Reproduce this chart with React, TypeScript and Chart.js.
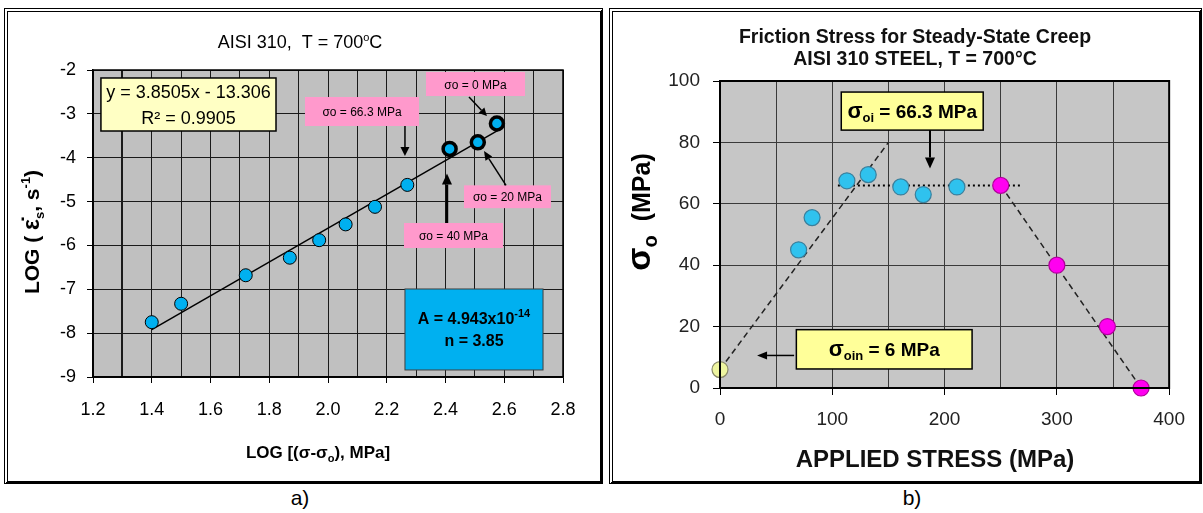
import { useEffect, useRef } from 'react';
import { Chart, registerables } from 'chart.js';

Chart.register(...registerables);

const SANS = '"Liberation Sans", Arial, Helvetica, sans-serif';

// ---------- Panel a) : LOG creep rate vs LOG effective stress ----------
const aLogStress = [1.40, 1.50, 1.72, 1.87, 1.97, 2.06, 2.16, 2.27];
const aLogRate = [-7.75, -7.33, -6.68, -6.28, -5.88, -5.52, -5.12, -4.62];
const aHighLogStress = [2.414, 2.51, 2.575];
const aHighLogRate = [-3.80, -3.65, -3.22];
const aFitX = [1.40, 2.58];
const aFitY = [-7.92, -3.37];
const aXTicks = ['1.2', '1.4', '1.6', '1.8', '2.0', '2.2', '2.4', '2.6', '2.8'];
const aYTicks = ['-9', '-8', '-7', '-6', '-5', '-4', '-3', '-2'];

// ---------- Panel b) : friction stress vs applied stress ----------
const bStartStress = [0];
const bStartSigma = [6];
const bBlueStress = [70, 82, 113, 132, 161, 181, 211];
const bBlueSigma = [45, 55.5, 67.5, 69.5, 65.5, 63, 65.5];
const bPinkStress = [250, 300, 345, 375];
const bPinkSigma = [66, 40, 20, 0];
const bRiseX = [0, 150];
const bRiseY = [6, 80];
const bFlatX = [105, 268];
const bFlatY = [66, 66];
const bFallX = [250, 375];
const bFallY = [66, 0];
const bXTicks = ['0', '100', '200', '300', '400'];
const bYTicks = ['0', '20', '40', '60', '80', '100'];

const pts = (xs: number[], ys: number[]) => xs.map((x, i) => ({ x, y: ys[i] }));

// canvas offsets in the page
const A = { left: 10, top: 13, w: 588, h: 466 };
const B = { left: 616, top: 14, w: 582, h: 464 };

type Seg = { t: string; size: number; bold?: boolean; dy?: number; family?: string };
const fontOf = (s: Seg) => `${s.bold ? 'bold ' : ''}${s.size}px ${s.family || SANS}`;

function drawSegs(ctx: CanvasRenderingContext2D, segs: Seg[], x: number, y: number, align = 'center', color = '#000') {
  ctx.save();
  ctx.fillStyle = color;
  ctx.textBaseline = 'alphabetic';
  ctx.textAlign = 'left';
  const ws = segs.map((s) => {
    ctx.font = fontOf(s);
    return ctx.measureText(s.t).width;
  });
  const total = ws.reduce((a, b) => a + b, 0);
  let cx = align === 'center' ? x - total / 2 : align === 'right' ? x - total : x;
  segs.forEach((s, i) => {
    ctx.font = fontOf(s);
    ctx.fillText(s.t, cx, y + (s.dy || 0));
    cx += ws[i];
  });
  ctx.restore();
}

function drawRotated(ctx: CanvasRenderingContext2D, segs: Seg[], x: number, y: number) {
  ctx.save();
  ctx.translate(x, y);
  ctx.rotate(-Math.PI / 2);
  drawSegs(ctx, segs, 0, 0, 'center');
  ctx.restore();
}

function arrow(ctx: CanvasRenderingContext2D, x1: number, y1: number, x2: number, y2: number, lw: number, hl: number, hw: number) {
  const a = Math.atan2(y2 - y1, x2 - x1);
  const bx = x2 - hl * Math.cos(a);
  const by = y2 - hl * Math.sin(a);
  ctx.save();
  ctx.strokeStyle = '#000';
  ctx.fillStyle = '#000';
  ctx.lineWidth = lw;
  ctx.beginPath();
  ctx.moveTo(x1, y1);
  ctx.lineTo(bx, by);
  ctx.stroke();
  ctx.beginPath();
  ctx.moveTo(x2, y2);
  ctx.lineTo(bx + hw * Math.sin(a), by - hw * Math.cos(a));
  ctx.lineTo(bx - hw * Math.sin(a), by + hw * Math.cos(a));
  ctx.closePath();
  ctx.fill();
  ctx.restore();
}

function rectBox(ctx: CanvasRenderingContext2D, x1: number, y1: number, x2: number, y2: number, fill: string, stroke: string | null, lw: number) {
  ctx.save();
  ctx.fillStyle = fill;
  ctx.fillRect(x1, y1, x2 - x1, y2 - y1);
  if (stroke) {
    ctx.strokeStyle = stroke;
    ctx.lineWidth = lw;
    ctx.strokeRect(x1, y1, x2 - x1, y2 - y1);
  }
  ctx.restore();
}

const near = (v: number, list: string[]) => list.some((s) => Math.abs(parseFloat(s) - v) < 1e-6);

const panelAPlugin = {
  id: 'panelA',
  beforeDraw(chart: any) {
    const { ctx, chartArea: c } = chart;
    ctx.save();
    ctx.fillStyle = '#c0c0c0';
    ctx.fillRect(c.left, c.top, c.width, c.height);
    ctx.restore();
  },
  afterDraw(chart: any) {
    const { ctx, chartArea: c, scales } = chart;
    const X = (v: number) => scales.x.getPixelForValue(v);
    const Y = (v: number) => scales.y.getPixelForValue(v);
    const px = (v: number) => v - A.left;
    const py = (v: number) => v - A.top;
    ctx.save();
    ctx.strokeStyle = '#000';
    ctx.lineWidth = 1.5;
    ctx.strokeRect(c.left, c.top, c.width, c.height);
    ctx.restore();

    // title
    drawSegs(ctx, [
      { t: 'AISI 310,  T = 700', size: 18 },
      { t: 'o', size: 11, dy: -7 },
      { t: 'C', size: 18 },
    ], px(300), py(48));

    // axis titles
    drawRotated(ctx, [
      { t: 'LOG ( ', size: 21, bold: true },
      { t: 'ε̇', size: 23, bold: true },
      { t: 's', size: 13, bold: true, dy: 5 },
      { t: ', s', size: 21, bold: true },
      { t: '-1', size: 13, bold: true, dy: -9 },
      { t: ')', size: 21, bold: true },
    ], px(39), py(232));
    drawSegs(ctx, [
      { t: 'LOG [(σ-σ', size: 17, bold: true },
      { t: 'o', size: 11, bold: true, dy: 4 },
      { t: '), MPa]', size: 17, bold: true },
    ], px(318), py(458));

    // regression box
    rectBox(ctx, X(1.227), Y(-2.182), X(1.823), Y(-3.391), '#ffffc4', '#000', 1.5);
    const cxBox = (X(1.227) + X(1.823)) / 2;
    drawSegs(ctx, [{ t: 'y = 3.8505x - 13.306', size: 18 }], cxBox, Y(-2.182) + 20);
    drawSegs(ctx, [{ t: 'R² = 0.9905', size: 18 }], cxBox, Y(-2.182) + 46);

    // pink labels
    const pink = (x1: number, y1: number, x2: number, y2: number, txt: string) => {
      rectBox(ctx, X(x1), Y(y1), X(x2), Y(y2), '#ff99cc', null, 0);
      drawSegs(ctx, [{ t: txt, size: 12 }], (X(x1) + X(x2)) / 2, (Y(y1) + Y(y2)) / 2 + 4.5);
    };
    pink(1.9217, -2.616, 2.3098, -3.277, 'σo = 66.3 MPa');
    arrow(ctx, X(2.262), Y(-3.277), X(2.262), Y(-3.96), 1.5, 9, 4.5);
    pink(2.3336, -2.046, 2.6707, -2.593, 'σo = 0 MPa');
    arrow(ctx, X(2.48), Y(-2.616), X(2.541), Y(-3.049), 1.5, 8, 4);
    pink(2.463, -4.63, 2.759, -5.15, 'σo = 20 MPa');
    arrow(ctx, X(2.606), Y(-4.63), X(2.531), Y(-3.847), 1.5, 9, 4);
    pink(2.2587, -5.489, 2.5957, -6.059, 'σo = 40 MPa');
    arrow(ctx, X(2.405), Y(-5.489), X(2.405), Y(-4.36), 2.5, 11, 5);

    // blue constants box
    rectBox(ctx, X(2.262), Y(-6.993), X(2.732), Y(-8.84), '#00b0f0', '#404040', 1);
    const cb = (X(2.262) + X(2.732)) / 2;
    drawSegs(ctx, [
      { t: 'A = 4.943x10', size: 16, bold: true },
      { t: '-14', size: 11, bold: true, dy: -7 },
    ], cb, Y(-6.993) + 35);
    drawSegs(ctx, [{ t: 'n = 3.85', size: 16, bold: true }], cb, Y(-6.993) + 57);
  },
};

const panelBPlugin = {
  id: 'panelB',
  beforeDraw(chart: any) {
    const { ctx, chartArea: c } = chart;
    ctx.save();
    ctx.fillStyle = '#c6c6c6';
    ctx.fillRect(c.left, c.top, c.width, c.height);
    ctx.restore();
  },
  afterDraw(chart: any) {
    const { ctx, chartArea: c, scales } = chart;
    const X = (v: number) => scales.x.getPixelForValue(v);
    const Y = (v: number) => scales.y.getPixelForValue(v);
    const px = (v: number) => v - B.left;
    const py = (v: number) => v - B.top;
    ctx.save();
    ctx.strokeStyle = '#000';
    ctx.lineWidth = 2;
    ctx.strokeRect(c.left, c.top, c.width, c.height);
    ctx.restore();

    drawSegs(ctx, [{ t: 'Friction Stress for Steady-State Creep', size: 19.5, bold: true }], px(915), py(43), 'center', '#111');
    drawSegs(ctx, [{ t: 'AISI 310 STEEL, T = 700°C', size: 19.5, bold: true }], px(915), py(65), 'center', '#111');

    drawRotated(ctx, [
      { t: 'σ', size: 34, bold: true },
      { t: 'o', size: 20, bold: true, dy: 7 },
      { t: '  (MPa)', size: 25, bold: true },
    ], px(650), py(212));
    drawSegs(ctx, [{ t: 'APPLIED STRESS (MPa)', size: 24, bold: true }], px(935), py(467), 'center', '#111');

    // sigma_oi box
    rectBox(ctx, X(108), Y(96.4), X(234.4), Y(84), '#ffff99', '#000', 1.5);
    drawSegs(ctx, [
      { t: 'σ', size: 22, bold: true },
      { t: 'oi', size: 13, bold: true, dy: 4 },
      { t: ' = 66.3 MPa', size: 19, bold: true },
    ], (X(108) + X(234.4)) / 2, (Y(96.4) + Y(84)) / 2 + 7);
    arrow(ctx, X(187), Y(84), X(187), Y(71.5), 2, 11, 5);

    // sigma_oin box
    rectBox(ctx, X(68), Y(19), X(224.5), Y(6.2), '#ffff99', '#000', 1.5);
    drawSegs(ctx, [
      { t: 'σ', size: 22, bold: true },
      { t: 'oin', size: 13, bold: true, dy: 4 },
      { t: ' = 6 MPa', size: 19, bold: true },
    ], (X(68) + X(224.5)) / 2, (Y(19) + Y(6.2)) / 2 + 7);
    arrow(ctx, X(66), Y(10.6), X(33), Y(10.6), 1.5, 10, 4);
  },
};

function useChart(ref: any, config: any) {
  useEffect(() => {
    const chart = new Chart(ref.current, config);
    return () => chart.destroy();
  }, []);
}

function PanelA() {
  const ref = useRef<HTMLCanvasElement>(null);
  useChart(ref, {
    type: 'scatter',
    data: {
      datasets: [
        {
          data: pts(aHighLogStress, aHighLogRate),
          backgroundColor: '#00b0f0',
          borderColor: '#000',
          borderWidth: 3.5,
          pointRadius: 6.5,
          clip: false,
        },
        {
          data: pts(aLogStress, aLogRate),
          backgroundColor: '#00b0f0',
          borderColor: '#000',
          borderWidth: 1,
          pointRadius: 6.5,
          clip: false,
        },
        {
          data: pts(aFitX, aFitY),
          showLine: true,
          borderColor: '#000',
          borderWidth: 1.5,
          pointRadius: 0,
        },
      ],
    },
    options: {
      responsive: false,
      animation: false,
      devicePixelRatio: 1,
      layout: { padding: { left: 0, right: A.w - 553, top: 57, bottom: 0 } },
      plugins: { legend: { display: false }, tooltip: { enabled: false } },
      scales: {
        x: {
          type: 'linear',
          min: 1.2,
          max: 2.8,
          afterFit: (s: any) => { s.height = 102; },
          ticks: {
            stepSize: 0.1,
            autoSkip: false,
            maxRotation: 0,
            padding: 16,
            color: '#000',
            font: { family: SANS, size: 18 },
            callback: (v: any) => (near(Number(v), aXTicks) ? Number(v).toFixed(1) : ''),
          },
          grid: {
            color: '#1a1a1a',
            lineWidth: (ctx: any) => (ctx.tick && Math.abs(ctx.tick.value - 1.3) < 1e-6 ? 2 : 1),
            tickLength: 6,
            tickColor: (ctx: any) => (ctx.tick && near(ctx.tick.value, aXTicks) ? '#000' : 'rgba(0,0,0,0)'),
          },
          border: { display: true, color: '#000', width: 1.5 },
        },
        y: {
          type: 'linear',
          min: -9,
          max: -2,
          afterFit: (s: any) => { s.width = 83; },
          ticks: {
            stepSize: 0.5,
            padding: 11,
            color: '#000',
            font: { family: SANS, size: 18 },
            callback: (v: any) => (near(Number(v), aYTicks) ? String(Math.round(Number(v))) : ''),
          },
          grid: {
            color: '#1a1a1a',
            lineWidth: 1,
            tickLength: 6,
            tickColor: (ctx: any) => (ctx.tick && near(ctx.tick.value, aYTicks) ? '#000' : 'rgba(0,0,0,0)'),
          },
          border: { display: true, color: '#000', width: 1.5 },
        },
      },
    },
    plugins: [panelAPlugin],
  });
  return (
    <canvas
      ref={ref}
      width={A.w}
      height={A.h}
      style={{ position: 'absolute', left: A.left, top: A.top, width: A.w, height: A.h }}
    />
  );
}

function PanelB() {
  const ref = useRef<HTMLCanvasElement>(null);
  useChart(ref, {
    type: 'scatter',
    data: {
      datasets: [
        {
          data: pts(bStartStress, bStartSigma),
          backgroundColor: '#eef5a0',
          borderColor: '#8a8a6a',
          borderWidth: 1.2,
          pointRadius: 8,
          clip: false,
        },
        {
          data: pts(bBlueStress, bBlueSigma),
          backgroundColor: '#2fc2ee',
          borderColor: '#3a7f9c',
          borderWidth: 1.2,
          pointRadius: 8,
          clip: false,
        },
        {
          data: pts(bPinkStress, bPinkSigma),
          backgroundColor: '#ff00f0',
          borderColor: '#b0009a',
          borderWidth: 1.2,
          pointRadius: 8,
          clip: false,
        },
        {
          data: pts(bFlatX, bFlatY),
          showLine: true,
          borderColor: '#000',
          borderWidth: 2,
          borderDash: [2, 3],
          pointRadius: 0,
        },
        {
          data: pts(bRiseX, bRiseY),
          showLine: true,
          borderColor: '#222',
          borderWidth: 1.5,
          borderDash: [6, 4],
          pointRadius: 0,
        },
        {
          data: pts(bFallX, bFallY),
          showLine: true,
          borderColor: '#222',
          borderWidth: 1.5,
          borderDash: [6, 4],
          pointRadius: 0,
        },
      ],
    },
    options: {
      responsive: false,
      animation: false,
      devicePixelRatio: 1,
      layout: { padding: { left: 0, right: B.w - 557, top: 67, bottom: 0 } },
      plugins: { legend: { display: false }, tooltip: { enabled: false } },
      scales: {
        x: {
          type: 'linear',
          min: 0,
          max: 400,
          afterFit: (s: any) => { s.height = 90; },
          ticks: {
            stepSize: 50,
            autoSkip: false,
            maxRotation: 0,
            padding: 13,
            color: '#222',
            font: { family: SANS, size: 19 },
            callback: (v: any) => (near(Number(v), bXTicks) ? String(v) : ''),
          },
          grid: {
            color: '#3a3a3a',
            lineWidth: 1,
            tickLength: 7,
            tickColor: (ctx: any) => (ctx.tick && near(ctx.tick.value, bXTicks) ? '#000' : 'rgba(0,0,0,0)'),
          },
          border: { display: true, color: '#000', width: 2 },
        },
        y: {
          type: 'linear',
          min: 0,
          max: 100,
          afterFit: (s: any) => { s.width = 104; },
          ticks: {
            stepSize: 20,
            padding: 13,
            color: '#222',
            font: { family: SANS, size: 19 },
            callback: (v: any) => (near(Number(v), bYTicks) ? String(v) : ''),
          },
          grid: {
            color: '#3a3a3a',
            lineWidth: 1,
            tickLength: 7,
            tickColor: '#000',
          },
          border: { display: true, color: '#000', width: 2 },
        },
      },
    },
    plugins: [panelBPlugin],
  });
  return (
    <canvas
      ref={ref}
      width={B.w}
      height={B.h}
      style={{ position: 'absolute', left: B.left, top: B.top, width: B.w, height: B.h }}
    />
  );
}

export default function App() {
  return (
    <div style={{ position: 'absolute', left: 0, top: 0, width: 1203, height: 513, background: '#fff', overflow: 'hidden', fontFamily: SANS }}>
      <div
        style={{
          position: 'absolute', left: 4, top: 8, width: 599, height: 476, boxSizing: 'border-box',
          borderTop: '4px double #000', borderLeft: '4px double #000', borderRight: '3px solid #000', borderBottom: '3px solid #000',
        }}
      />
      <div
        style={{
          position: 'absolute', left: 609, top: 8, width: 593, height: 476, boxSizing: 'border-box',
          borderTop: '4px double #000', borderLeft: '4px double #000', borderRight: '3px solid #000', borderBottom: '3px solid #000',
        }}
      />
      <PanelA />
      <PanelB />
      <div style={{ position: 'absolute', left: 300, top: 486, transform: 'translateX(-50%)', fontSize: 21, lineHeight: '24px', color: '#000' }}>a)</div>
      <div style={{ position: 'absolute', left: 912, top: 486, transform: 'translateX(-50%)', fontSize: 21, lineHeight: '24px', color: '#000' }}>b)</div>
    </div>
  );
}
